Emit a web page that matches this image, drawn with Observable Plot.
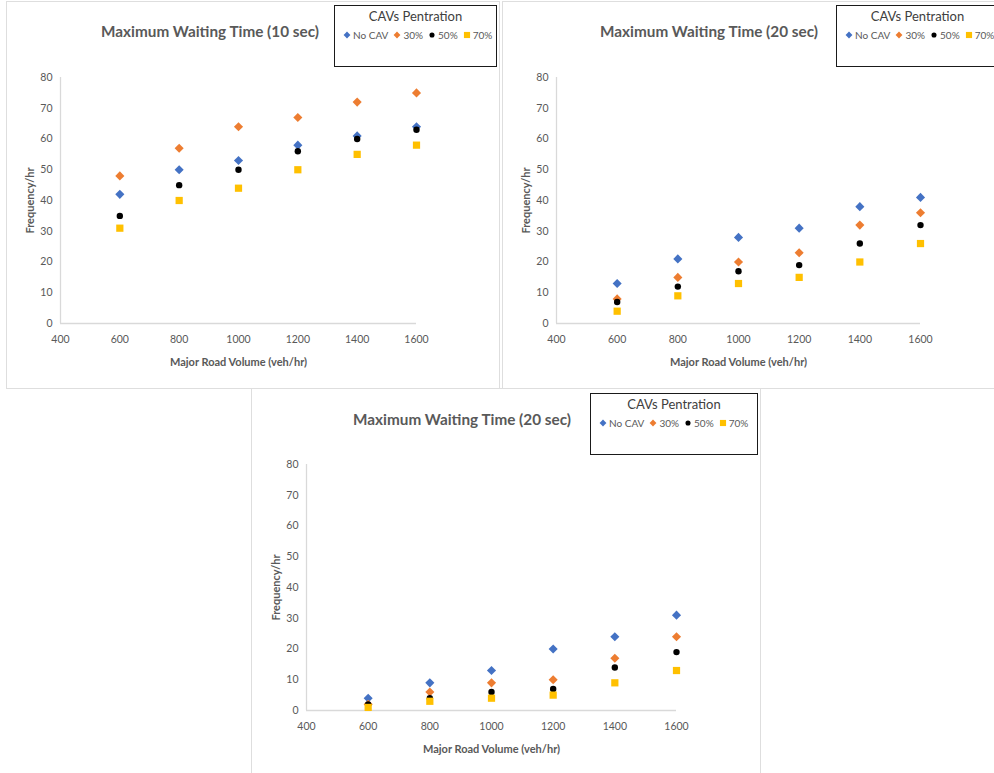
<!DOCTYPE html>
<html>
<head>
<meta charset="utf-8">
<script src="https://cdn.jsdelivr.net/npm/d3@7"></script>
<script src="https://cdn.jsdelivr.net/npm/@observablehq/plot@0.6"></script>
<style>
  html, body { margin: 0; padding: 0; background: #fff; overflow: hidden; }
  #page { position: relative; width: 994px; height: 773px; overflow: hidden; font-family: Lato, "Open Sans", sans-serif; }
  .panel { position: absolute; background: #fff; outline: 1.5px solid #dedede; }
  .panel svg { position: absolute; left: 0; top: 0; }
  .title { position: absolute; transform: translateX(-50%); white-space: nowrap; font-size: 15.3px; font-weight: 700; color: #595959; }
  .legend { position: absolute; box-sizing: border-box; border: 1.5px solid #1a1a1a; background: #fff; color: #595959; }
  .legend .lt { position: absolute; left: 0; right: 0; text-align: center; font-size: 13px; color: #404040; }
  .legend .items { position: absolute; left: 7px; white-space: nowrap; font-size: 10px; }
  .legend .item { display: inline-flex; align-items: center; margin-right: 4px; }
  .legend .item svg { margin-right: 1px; }
</style>
</head>
<body>
<div id="page"></div>
<script>
// Major road volume (veh/hr) on the x axis
const volumes = [600, 800, 1000, 1200, 1400, 1600];
const xTicks = [400, 600, 800, 1000, 1200, 1400, 1600];
const yTicks = [0, 10, 20, 30, 40, 50, 60, 70, 80];
const seriesNames = ["No CAV", "30%", "50%", "70%"];

// Maximum waiting time 10 sec: frequency/hr per CAV penetration
const wait10NoCav = [42, 50, 53, 58, 61, 64];
const wait10Cav30 = [48, 57, 64, 67, 72, 75];
const wait10Cav50 = [35, 45, 50, 56, 60, 63];
const wait10Cav70 = [31, 40, 44, 50, 55, 58];

// Maximum waiting time 20 sec (upper right chart)
const wait20aNoCav = [13, 21, 28, 31, 38, 41];
const wait20aCav30 = [8, 15, 20, 23, 32, 36];
const wait20aCav50 = [7, 12, 17, 19, 26, 32];
const wait20aCav70 = [4, 9, 13, 15, 20, 26];

// Maximum waiting time 20 sec (lower chart)
const wait20bNoCav = [4, 9, 13, 20, 24, 31];
const wait20bCav30 = [2, 6, 9, 10, 17, 24];
const wait20bCav50 = [2, 4, 6, 7, 14, 19];
const wait20bCav70 = [1, 3, 4, 5, 9, 13];

const chartTitles = [
  "Maximum Waiting Time (10 sec)",
  "Maximum Waiting Time (20 sec)",
  "Maximum Waiting Time (20 sec)"
];
const legendTitle = "CAVs Pentration";
const xLabel = "Major Road Volume (veh/hr)";
const yLabel = "Frequency/hr";

// marker style per series (Excel-like defaults)
const seriesColors = ["#4472C4", "#ED7D31", "#000000", "#FFC000"];
const seriesSymbols = ["diamond2", "diamond2", "circle", "square2"];
const seriesRadius = [4.1, 4.1, 3.2, 4.6];

const panelSeries = [
  [wait10NoCav, wait10Cav30, wait10Cav50, wait10Cav70],
  [wait20aNoCav, wait20aCav30, wait20aCav50, wait20aCav70],
  [wait20bNoCav, wait20bCav30, wait20bCav50, wait20bCav70]
];

// panel boxes and inner plot frames
const layout = [
  {left: 7, top: 2, width: 492, height: 386, ml: 53, mr: 83, mt: 75, mb: 65,
   titleX: 210, titleY: 22, legend: {left: 334, top: 5, width: 163, height: 62}},
  {left: 503, top: 2, width: 500, height: 386, ml: 53, mr: 83, mt: 75, mb: 65,
   titleX: 709, titleY: 22, legend: {left: 836, top: 5, width: 163, height: 62}},
  {left: 252, top: 389, width: 508, height: 390, ml: 54, mr: 84, mt: 75, mb: 69,
   titleX: 462, titleY: 410, legend: {left: 590, top: 393, width: 168, height: 62}}
];

const page = document.getElementById("page");

function symbolSvg(i) {
  const size = 10;
  const sym = {diamond2: d3.symbolDiamond2, circle: d3.symbolCircle, square2: d3.symbolSquare2}[seriesSymbols[i]];
  const scale = {diamond2: 0.75, circle: 0.8, square2: 0.85}[seriesSymbols[i]];
  const r = seriesRadius[i] * scale;
  const path = d3.symbol(sym, Math.PI * r * r)();
  const svg = d3.create("svg").attr("width", size).attr("height", size)
    .attr("viewBox", `${-size / 2} ${-size / 2} ${size} ${size}`);
  svg.append("path").attr("d", path).attr("fill", seriesColors[i]);
  return svg.node();
}

panelSeries.forEach((series, p) => {
  const L = layout[p];
  const rows = [];
  series.forEach((vals, s) => vals.forEach((v, k) => rows.push({series: seriesNames[s], volume: volumes[k], freq: v})));

  const chart = Plot.plot({
    width: L.width,
    height: L.height,
    marginLeft: L.ml,
    marginRight: L.mr,
    marginTop: L.mt,
    marginBottom: L.mb,
    style: {fontFamily: "Lato, sans-serif", fontSize: "10.5px", color: "#595959", background: "transparent", overflow: "visible"},
    x: {domain: [400, 1600], ticks: xTicks, tickFormat: d => `${d}`, tickSize: 0, tickPadding: 12,
        label: xLabel, labelAnchor: "center", labelOffset: 42, labelArrow: false},
    y: {domain: [0, 80], ticks: yTicks, tickFormat: d => `${d}`, tickSize: 0, tickPadding: 8,
        label: yLabel, labelAnchor: "center", labelOffset: 34, labelArrow: false},
    marks: [
      Plot.ruleX([400], {y1: 0, y2: 80, stroke: "#d9d9d9", strokeWidth: 1.3}),
      Plot.ruleY([0], {x1: 400, x2: 1600, stroke: "#d9d9d9", strokeWidth: 1.3}),
      ...seriesNames.map((name, s) => Plot.dot(rows.filter(d => d.series === name), {
        x: "volume", y: "freq", symbol: () => seriesSymbols[s], r: seriesRadius[s],
        fill: seriesColors[s], stroke: "none"
      }))
    ]
  });
  d3.select(chart).selectAll('[aria-label="x-axis label"] text, [aria-label="y-axis label"] text')
    .attr("font-weight", "bold").attr("font-size", "11px");

  const div = document.createElement("div");
  div.className = "panel";
  Object.assign(div.style, {left: L.left + "px", top: L.top + "px", width: L.width + "px", height: L.height + "px"});
  div.appendChild(chart);
  page.appendChild(div);

  const title = document.createElement("div");
  title.className = "title";
  title.textContent = chartTitles[p];
  Object.assign(title.style, {left: L.titleX + "px", top: L.titleY + "px"});
  page.appendChild(title);

  const lg = document.createElement("div");
  lg.className = "legend";
  Object.assign(lg.style, {left: L.legend.left + "px", top: L.legend.top + "px", width: L.legend.width + "px", height: L.legend.height + "px"});
  const lt = document.createElement("div");
  lt.className = "lt";
  lt.style.top = "2px";
  lt.textContent = legendTitle;
  lg.appendChild(lt);
  const items = document.createElement("div");
  items.className = "items";
  items.style.top = "23px";
  seriesNames.forEach((name, s) => {
    const it = document.createElement("span");
    it.className = "item";
    it.appendChild(symbolSvg(s));
    it.appendChild(document.createTextNode(name));
    items.appendChild(it);
  });
  lg.appendChild(items);
  page.appendChild(lg);
});
</script>
</body>
</html>
